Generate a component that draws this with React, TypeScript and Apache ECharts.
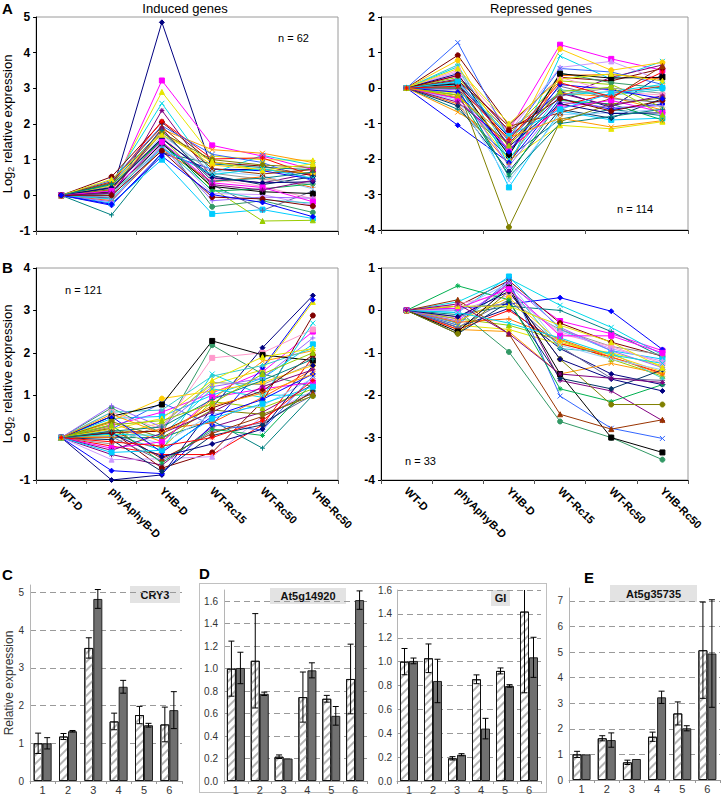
import React, { useEffect, useRef } from 'react';
import * as echarts from 'echarts';

const FONT = '"Liberation Sans", Arial, Helvetica, sans-serif';

const conditions = ['WT-D', 'phyAphyB-D', 'YHB-D', 'WT-Rc15', 'WT-Rc50', 'YHB-Rc50'];

// Panel A, induced genes (n = 62, representative subset)
const inducedGenes: number[][] = [
  [0, 0.05, 4.85, 0.73, 0.72, 0.6],
  [0, 0.12, 3.22, 1.4, 1.1, 0.72],
  [0, 0.22, 2.9, 1.1, 1.0, 0.98],
  [0, 0.32, 2.58, 0.62, 1.12, 0.85],
  [0, -0.08, 2.38, 0.48, 0.35, 0.62],
  [0, 0.52, 2.05, 0.92, 0.82, 0.55],
  [0, -0.55, 1.2, 0.88, 0.78, 0.72],
  [0, -0.28, 1.18, 0.73, 0.69, 0.45],
  [0, -0.22, 1.0, -0.52, -0.4, -0.65],
  [0, 0.0, 1.62, 0.2, -0.72, -0.7],
  [0, 0.15, 1.85, 1.28, 1.18, 0.92],
  [0, 0.35, 2.08, 1.02, 1.05, 0.55],
  [0, 0.08, 1.55, -0.32, -0.15, -0.48],
  [0, -0.05, 1.48, 0.3, -0.42, 0.12],
  [0, 0.25, 1.72, 0.62, 0.45, 0.3],
  [0, 0.18, 1.65, 0.45, 0.25, -0.1],
  [0, -0.12, 1.42, 0.05, 0.02, -0.28],
  [0, 0.42, 1.95, 1.15, 0.92, 0.4],
  [0, 0.05, 1.35, 0.15, -0.12, -0.22],
  [0, 0.28, 1.78, 0.85, 0.72, 0.62],
  [0, -0.15, 1.28, 0.38, 0.52, 0.22],
  [0, 0.2, 1.58, 0.55, 0.3, 0.52],
  [0, 0.1, 1.45, 0.25, 0.1, 0.05],
  [0, 0.38, 1.92, 0.75, 0.6, 0.72],
  [0, -0.02, 1.68, 0.68, 0.55, 0.18],
  [0, 0.3, 1.52, 0.12, 0.18, 0.32],
  [0, 0.16, 1.75, 1.0, 0.85, 0.78],
  [0, -0.18, 1.38, -0.15, -0.05, -0.08],
  [0, 0.22, 1.6, 0.5, 0.35, 0.38],
  [0, 0.12, 1.5, 0.35, 0.22, -0.18],
  [0, 0.45, 1.7, 0.95, 0.7, 0.88],
  [0, -0.1, 1.32, 0.58, 0.75, 0.48],
  [0, 0.06, 1.88, 0.3, 0.15, 0.42],
  [0, 0.0, 1.25, -0.05, -0.1, -0.3],
  [0, 0.33, 1.82, 0.4, 0.48, 0.65],
  [0, -0.25, 1.1, 0.02, -0.2, -0.6],
];

// Panel A, repressed genes (n = 114, representative subset)
const repressedGenes: number[][] = [
  [0, 0.1, -1.38, -0.1, -0.55, 0.38],
  [0, 0.35, -1.2, 1.22, 0.82, 0.5],
  [0, -0.15, -2.05, -1.05, -1.15, -0.95],
  [0, 0.6, -2.2, 0.9, 0.25, 0.75],
  [0, 0.25, -1.6, -0.25, 0.3, 0.65],
  [0, 0.92, -1.05, 0.3, 0.2, 0.55],
  [0, -0.6, -1.95, -0.88, -0.6, -0.78],
  [0, -1.05, -2.1, -0.3, -0.6, -0.45],
  [0, 0.2, -2.8, -0.65, -0.9, -0.85],
  [0, 0.3, -1.3, 0.2, 0.1, -0.55],
  [0, -0.68, -1.55, -0.15, -0.25, -0.62],
  [0, 0.0, -1.75, -0.5, -0.15, 0.05],
  [0, -0.28, -1.85, 0.42, 0.15, 0.0],
  [0, 0.15, -1.5, 0.05, -0.3, -0.4],
  [0, -0.1, -1.15, -0.2, 0.0, -0.15],
  [0, 0.5, -1.1, 0.3, -0.1, -0.2],
  [0, 0.45, -1.25, 0.58, 0.75, 0.2],
  [0, 1.28, -1.4, 0.55, 0.45, 0.1],
  [0, 0.65, -1.85, -0.05, -0.2, -0.05],
  [0, 0.78, -1.7, 1.1, 0.5, 0.72],
  [0, -0.45, -2.15, 0.35, 0.38, 0.25],
  [0, -0.5, -2.35, -0.6, -0.85, -0.3],
  [0, 0.12, -1.9, 0.4, 0.28, 0.3],
  [0, 0.22, -1.08, -0.7, -0.3, 0.62],
  [0, -0.35, -2.62, -0.75, -0.7, -0.6],
  [0, -0.2, -2.45, -0.35, -0.45, -0.9],
  [0, 0.0, -3.92, -0.95, -0.45, -0.28],
  [0, -0.05, -2.2, -0.4, -0.55, -0.5],
  [0, 0.4, -1.65, -0.45, -0.72, -0.7],
  [0, -0.3, -1.72, -0.55, -0.35, -0.68],
  [0, 0.55, -1.0, 0.25, 0.4, 0.2],
  [0, 0.08, -2.0, -0.2, -0.1, 0.1],
  [0, -0.4, -1.55, -0.15, -0.5, -0.22],
  [0, 0.35, -1.2, -0.3, -0.65, -0.35],
  [0, 0.0, -2.5, -1.0, -0.8, -0.6],
  [0, -0.12, -1.8, 0.1, -0.05, -0.3],
  [0, 0.18, -1.35, -0.6, -0.15, 0.0],
  [0, -0.2, -1.62, -0.1, 0.02, -0.75],
  [0, -0.25, -1.4, -0.85, -1.1, -0.92],
  [0, 0.05, -1.45, 0.15, -0.25, 0.45],
];

// Panel B, light-induced genes (n = 121, representative subset)
const lightInducedGenes: number[][] = [
  [0, -1.0, -0.88, 0.7, 2.12, 3.35],
  [0, 0.28, 0.6, 1.05, 1.55, 2.5],
  [0, 0.05, 0.35, 1.25, 1.6, 3.2],
  [0, 0.1, -0.3, 1.5, 1.0, 1.0],
  [0, -0.4, -0.65, 0.25, 0.6, 1.25],
  [0, 0.15, -0.72, -0.35, 0.85, 2.88],
  [0, 0.0, 0.0, 0.4, -0.25, 1.0],
  [0, -0.78, -0.85, 0.3, 1.65, 3.25],
  [0, 0.45, 0.5, 1.0, 1.4, 2.2],
  [0, 0.25, -0.25, 0.85, 0.7, 1.15],
  [0, 0.35, -0.1, 0.9, 1.8, 2.05],
  [0, -0.2, -0.4, -0.4, 0.3, 1.9],
  [0, 0.7, 0.1, 2.18, 1.5, 1.2],
  [0, 0.02, -0.55, 0.15, 0.35, 1.0],
  [0, -0.15, 0.3, 1.3, 1.25, 1.75],
  [0, 0.6, 0.2, 1.88, 2.0, 2.55],
  [0, -0.52, -0.5, -0.45, 0.5, 1.1],
  [0, 0.2, 0.82, 0.3, 0.18, 1.45],
  [0, 0.6, 0.65, 1.45, 1.7, 2.1],
  [0, 0.4, 0.92, 1.1, 1.3, 1.7],
  [0, 0.0, 0.2, 0.35, 0.95, 1.6],
  [0, -0.05, -0.8, 0.05, 0.3, 1.1],
  [0, 0.5, 0.78, 2.28, 1.95, 1.82],
  [0, 0.22, -0.5, 0.1, 0.5, 1.05],
  [0, 0.18, -0.15, 0.55, 0.75, 1.4],
  [0, 0.3, -0.6, 0.2, 0.05, 1.3],
  [0, 0.38, 0.0, 0.65, 0.55, 0.98],
  [0, 0.75, 0.25, 1.2, 1.4, 2.35],
  [0, 0.1, -0.45, -0.15, 0.2, 1.7],
  [0, -0.25, -0.1, 0.95, 1.15, 1.3],
  [0, 0.2, 0.45, 1.35, 1.9, 2.1],
  [0, 0.08, 0.05, 1.15, 0.95, 2.7],
  [0, -0.3, 0.1, 0.6, 1.2, 1.6],
  [0, 0.12, 0.15, 0.7, 1.1, 1.95],
  [0, 0.15, 0.25, 0.9, 1.35, 1.85],
  [0, 0.5, -0.35, 0.5, 0.9, 1.5],
  [0, -0.35, -0.3, 0.45, 0.8, 1.2],
  [0, 0.3, 0.4, 0.8, 1.5, 2.0],
  [0, 0.55, 0.1, 0.75, 1.05, 1.5],
  [0, -0.1, -0.2, 0.0, 0.4, 1.35],
];

// Panel B, light-repressed genes (n = 33)
const lightRepressedGenes: number[][] = [
  [0, -0.4, 0.05, -0.9, -1.5, -1.75],
  [0, -0.2, 0.6, -0.25, -0.55, -0.95],
  [0, -0.35, -0.45, -0.8, -1.0, -1.3],
  [0, 0.2, 0.75, 0.12, -0.4, -1.05],
  [0, -0.3, 0.65, -1.65, -1.9, -2.6],
  [0, 0.1, 0.7, -0.3, -0.75, -1.08],
  [0, -0.1, 0.1, 0.0, -0.5, -1.1],
  [0, 0.05, 0.15, 0.3, -0.02, -0.92],
  [0, -0.05, 0.8, -0.45, -0.95, -1.15],
  [0, -0.2, -0.35, -0.7, -1.15, -1.55],
  [0, -0.45, -0.5, -1.5, -1.25, -1.5],
  [0, -0.45, 0.0, -0.78, -1.1, -1.48],
  [0, 0.0, -0.98, -2.62, -3.0, -3.52],
  [0, -0.4, 0.25, -0.85, -1.6, -1.65],
  [0, -0.15, 0.2, -0.45, -0.85, -1.05],
  [0, 0.15, 0.4, -0.55, -0.85, -1.25],
  [0, 0.0, 0.35, -0.5, -0.9, -1.2],
  [0, -0.35, 0.72, -2.02, -2.78, -3.02],
  [0, -0.3, 0.55, -0.9, -1.0, -1.6],
  [0, -0.25, 0.3, -0.75, -1.05, -1.45],
  [0, -0.28, -0.2, -0.68, -1.1, -1.5],
  [0, -0.55, 0.2, -1.6, -1.85, -1.4],
  [0, -0.5, 0.55, -1.5, -3.0, -3.35],
  [0, 0.25, -0.55, -2.45, -2.8, -2.58],
  [0, 0.02, 0.65, -0.82, -1.15, -1.4],
  [0, 0.58, 0.25, -1.85, -2.15, -1.75],
  [0, -0.55, 0.45, -1.15, -2.22, -2.22],
  [0, -0.25, 0.65, -0.4, -0.95, -1.35],
  [0, -0.15, 0.45, -1.15, -1.62, -1.9],
  [0, 0.05, 0.5, -0.6, -0.6, -1.0],
  [0, 0.1, 0.1, -0.35, -0.75, -1.35],
  [0, -0.05, -0.3, -0.65, -1.05, -1.25],
  [0, 0.15, -0.55, -1.5, -1.6, -1.7],
];

// Panels C-E: bar groups, values and symmetric error half-widths
const barGroups = ['1', '2', '3', '4', '5', '6'];
const cry3Hatched = [1.0, 1.18, 3.53, 1.58, 1.75, 1.5];
const cry3HatchedErr = [0.27, 0.08, 0.27, 0.22, 0.23, 0.46];
const cry3Dark = [1.0, 1.32, 4.83, 2.5, 1.48, 1.88];
const cry3DarkErr = [0.15, 0.02, 0.25, 0.17, 0.05, 0.49];
const at14920Hatched = [1.0, 1.07, 0.216, 0.747, 0.732, 0.908];
const at14920HatchedErr = [0.245, 0.42, 0.016, 0.223, 0.03, 0.31];
const at14920Dark = [1.006, 0.776, 0.2, 0.985, 0.58, 1.61];
const at14920DarkErr = [0.14, 0.015, 0, 0.067, 0.083, 0.082];
const giHatched = [1.0, 1.028, 0.19, 0.852, 0.922, 1.419];
const giHatchedErr = [0.11, 0.12, 0.014, 0.037, 0.025, 0.68];
const giDark = [1.006, 0.838, 0.22, 0.439, 0.796, 1.036];
const giDarkErr = [0.024, 0.182, 0.009, 0.086, 0.011, 0.168];
const at35735Hatched = [1.0, 1.63, 0.69, 1.69, 2.6, 5.07];
const at35735HatchedErr = [0.12, 0.1, 0.085, 0.18, 0.45, 1.88];
const at35735Dark = [1.0, 1.56, 0.82, 3.23, 2.02, 4.94];
const at35735DarkErr = [0, 0.28, 0, 0.24, 0.1, 2.1];

const PALETTE = [
  '#000080', '#FF00FF', '#E6E600', '#00D8E8', '#800080', '#800000', '#008080',
  '#0000FF', '#00CCFF', '#99CC00', '#FF9900', '#FF0000', '#339966', '#666699',
  '#969696', '#FF99CC', '#CC99FF', '#3366FF', '#33CCCC', '#FFCC00', '#FF6600',
  '#003366', '#000000', '#993300', '#99CCFF', '#00B050', '#808000', '#9966FF',
];
const X_SYM = 'path://M0,0L10,10M10,0L0,10';
const STAR_SYM = 'path://M5,0L5,10M0,5L10,5M1.5,1.5L8.5,8.5M8.5,1.5L1.5,8.5';
const PLUS_SYM = 'path://M5,0L5,10M0,5L10,5';
const SYMBOLS = ['diamond', 'rect', 'triangle', X_SYM, STAR_SYM, 'circle', PLUS_SYM];

const BAR_W = 9;

export default function App() {
  const ref = useRef<HTMLDivElement>(null);

  useEffect(() => {
    if (!ref.current) return;
    const chart = echarts.init(ref.current, undefined, { renderer: 'svg' });

    const lineGrids = [
      { left: 36, top: 17, width: 302, height: 214, min: -1, max: 5, rows: inducedGenes, labels: false, yName: true },
      { left: 381, top: 17, width: 307, height: 213, min: -4, max: 2, rows: repressedGenes, labels: false, yName: false },
      { left: 36, top: 268, width: 302, height: 212, min: -1, max: 4, rows: lightInducedGenes, labels: true, yName: true },
      { left: 381, top: 268, width: 307, height: 212, min: -4, max: 1, rows: lightRepressedGenes, labels: true, yName: false },
    ];
    const barGrids = [
      { left: 30, top: 585, width: 152, height: 196, max: 5.2, interval: 1, dec: 0, name: 'Relative expression', hatched: cry3Hatched, hatchedErr: cry3HatchedErr, dark: cry3Dark, darkErr: cry3DarkErr, maxLine: false, margin: 6 },
      { left: 224, top: 590, width: 143, height: 191, max: 1.7, interval: 0.2, dec: 1, name: '', hatched: at14920Hatched, hatchedErr: at14920HatchedErr, dark: at14920Dark, darkErr: at14920DarkErr, maxLine: false, margin: 6 },
      { left: 397, top: 590, width: 144, height: 191, max: 1.6, interval: 0.2, dec: 1, name: '', hatched: giHatched, hatchedErr: giHatchedErr, dark: giDark, darkErr: giDarkErr, maxLine: true, margin: 5 },
      { left: 569, top: 588, width: 151, height: 192, max: 7.5, interval: 1, dec: 0, name: '', hatched: at35735Hatched, hatchedErr: at35735HatchedErr, dark: at35735Dark, darkErr: at35735DarkErr, maxLine: false, margin: 6 },
    ];

    const grid: any[] = [];
    const xAxis: any[] = [];
    const yAxis: any[] = [];
    const series: any[] = [];

    lineGrids.forEach((g, gi) => {
      grid.push({ left: g.left, top: g.top, width: g.width, height: g.height, show: true, borderColor: '#9a9a9a', borderWidth: 1, backgroundColor: 'transparent' });
      xAxis.push({
        type: 'category', gridIndex: gi, data: conditions, boundaryGap: true,
        axisLine: { onZero: false, lineStyle: { color: '#000', width: 1 } },
        axisTick: { show: true, length: 4, lineStyle: { color: '#555' } },
        axisLabel: g.labels
          ? { show: true, interval: 0, rotate: -45, margin: 9, fontSize: 11, fontWeight: 'bold', color: '#000', fontFamily: FONT }
          : { show: false },
        splitLine: { show: false },
      });
      yAxis.push({
        type: 'value', gridIndex: gi, min: g.min, max: g.max, interval: 1,
        axisLine: { show: true, lineStyle: { color: '#000', width: 1 } },
        axisTick: { show: true, length: 3, lineStyle: { color: '#000' } },
        axisLabel: { fontSize: 12, fontWeight: 'bold', color: '#000', margin: 6, fontFamily: FONT },
        splitLine: { show: false },
        name: g.yName ? '{a|Log}{s|2}{a| relative expression}' : '',
        nameLocation: 'middle', nameGap: 20, nameRotate: 90,
        nameTextStyle: {
          fontFamily: FONT, color: '#000', fontSize: 13,
          rich: {
            a: { fontSize: 13, fontFamily: FONT, color: '#000', lineHeight: 16 },
            s: { fontSize: 9, fontFamily: FONT, color: '#000', verticalAlign: 'bottom', lineHeight: 16, padding: [5, 0, 0, 0] },
          },
        },
      });
      g.rows.forEach((row, i) => {
        const color = PALETTE[i % PALETTE.length];
        series.push({
          type: 'line', xAxisIndex: gi, yAxisIndex: gi, data: row, silent: true,
          symbol: SYMBOLS[i % SYMBOLS.length], symbolSize: 5, showSymbol: true, showAllSymbol: true,
          lineStyle: { width: 1, color },
          itemStyle: { color, borderColor: color, borderWidth: 1 },
          z: 3,
        });
      });
    });

    const hatchStyle = {
      color: '#ffffff', borderColor: '#111', borderWidth: 1,
      decal: { symbol: 'rect', symbolSize: 1, color: '#b4b4b4', dashArrayX: [1, 0], dashArrayY: [2, 4], rotation: -Math.PI / 4 },
    };
    const darkStyle = { color: '#707070', borderColor: '#222', borderWidth: 1 };

    const errorSeries = (gi: number, vals: number[], errs: number[], side: number) => ({
      type: 'custom', xAxisIndex: gi, yAxisIndex: gi, clip: true, silent: true, z: 6,
      data: vals.map((v, i) => [i, v - errs[i], v + errs[i]]),
      renderItem: (params: any, api: any) => {
        const lo = api.value(1);
        const hi = api.value(2);
        if (hi - lo < 1e-9) return { type: 'group', children: [] };
        const p0 = api.coord([api.value(0), lo]);
        const p1 = api.coord([api.value(0), hi]);
        const x = p0[0] + side * BAR_W / 2;
        const cap = 3;
        const style = { stroke: '#000', lineWidth: 1 };
        return {
          type: 'group',
          children: [
            { type: 'line', shape: { x1: x, y1: p0[1], x2: x, y2: p1[1] }, style },
            { type: 'line', shape: { x1: x - cap, y1: p1[1], x2: x + cap, y2: p1[1] }, style },
            { type: 'line', shape: { x1: x - cap, y1: p0[1], x2: x + cap, y2: p0[1] }, style },
          ],
        };
      },
    });

    barGrids.forEach((g, k) => {
      const gi = lineGrids.length + k;
      grid.push({ left: g.left, top: g.top, width: g.width, height: g.height, show: false });
      xAxis.push({
        type: 'category', gridIndex: gi, data: barGroups, boundaryGap: true,
        axisLine: { onZero: false, lineStyle: { color: '#999', width: 1 } },
        axisTick: { show: true, length: 3, lineStyle: { color: '#999' } },
        axisLabel: { fontSize: 11, color: '#333', margin: 3, fontFamily: FONT },
      });
      const interval = g.interval;
      const dec = g.dec;
      yAxis.push({
        type: 'value', gridIndex: gi, min: 0, max: g.max, interval,
        axisLine: { show: true, lineStyle: { color: '#b5b5b5', width: 1 } },
        axisTick: { show: false },
        axisLabel: {
          fontSize: 10, color: '#333', margin: g.margin, fontFamily: FONT,
          formatter: (v: number) => {
            const q = v / interval;
            return Math.abs(q - Math.round(q)) < 1e-6 ? v.toFixed(dec) : '';
          },
        },
        splitLine: { show: true, showMinLine: false, showMaxLine: g.maxLine, lineStyle: { color: '#9a9a9a', type: [6, 4], width: 1 } },
        name: g.name, nameLocation: 'middle', nameGap: 14, nameRotate: 90,
        nameTextStyle: { fontSize: 12, color: '#333', fontFamily: FONT },
      });
      series.push({ type: 'bar', xAxisIndex: gi, yAxisIndex: gi, data: g.hatched, barWidth: BAR_W, barGap: '0%', itemStyle: hatchStyle, silent: true, z: 2 });
      series.push({ type: 'bar', xAxisIndex: gi, yAxisIndex: gi, data: g.dark, barWidth: BAR_W, barGap: '0%', itemStyle: darkStyle, silent: true, z: 2 });
      series.push(errorSeries(gi, g.hatched, g.hatchedErr, -1));
      series.push(errorSeries(gi, g.dark, g.darkErr, 1));
    });

    const txt = (x: number, y: number, text: string, size: number, weight = 'normal', align = 'left') => ({
      type: 'text', x, y, silent: true, z: 100,
      style: {
        text, fontSize: size, fontWeight: weight, fontFamily: FONT, fill: '#000',
        textAlign: align, textVerticalAlign: 'middle', align, verticalAlign: 'middle',
      },
    });
    const labelBox = (x: number, y: number, w: number, h: number, text: string) => ({
      type: 'group', silent: true, z: 100,
      children: [
        { type: 'rect', shape: { x, y, width: w, height: h }, style: { fill: '#e3e3e3' } },
        {
          type: 'text', x: x + w / 2, y: y + h / 2,
          style: { text, fontSize: 11, fontWeight: 'bold', fontFamily: FONT, fill: '#111', textAlign: 'center', textVerticalAlign: 'middle', align: 'center', verticalAlign: 'middle' },
        },
      ],
    });

    const graphic: any[] = [
      txt(2, 8, 'A', 15, 'bold'),
      txt(2, 267, 'B', 15, 'bold'),
      txt(2, 574, 'C', 15, 'bold'),
      txt(199, 573, 'D', 15, 'bold'),
      txt(584, 577, 'E', 15, 'bold'),
      txt(185, 8, 'Induced genes', 13, 'normal', 'center'),
      txt(541, 8, 'Repressed genes', 13, 'normal', 'center'),
      txt(278, 38, 'n = 62', 11),
      txt(617, 209, 'n = 114', 11),
      txt(65, 290, 'n = 121', 11),
      txt(405, 461, 'n = 33', 11),
      {
        type: 'rect', silent: true, z: 99,
        shape: { x: 199.5, y: 583.5, width: 347, height: 209 },
        style: { fill: 'none', stroke: '#808080', lineWidth: 1, lineDash: [1, 1] },
      },
      labelBox(130, 586, 50, 17, 'CRY3'),
      labelBox(270, 588, 76, 16, 'At5g14920'),
      labelBox(491, 590, 19, 16, 'GI'),
      labelBox(610, 585, 87, 17, 'At5g35735'),
    ];

    chart.setOption({
      animation: false,
      backgroundColor: '#ffffff',
      textStyle: { fontFamily: FONT },
      grid, xAxis, yAxis, series, graphic,
    });

    return () => chart.dispose();
  }, []);

  return (
    <div
      ref={ref}
      style={{ position: 'absolute', left: 0, top: 0, width: 724, height: 795, background: '#fff' }}
    />
  );
}
